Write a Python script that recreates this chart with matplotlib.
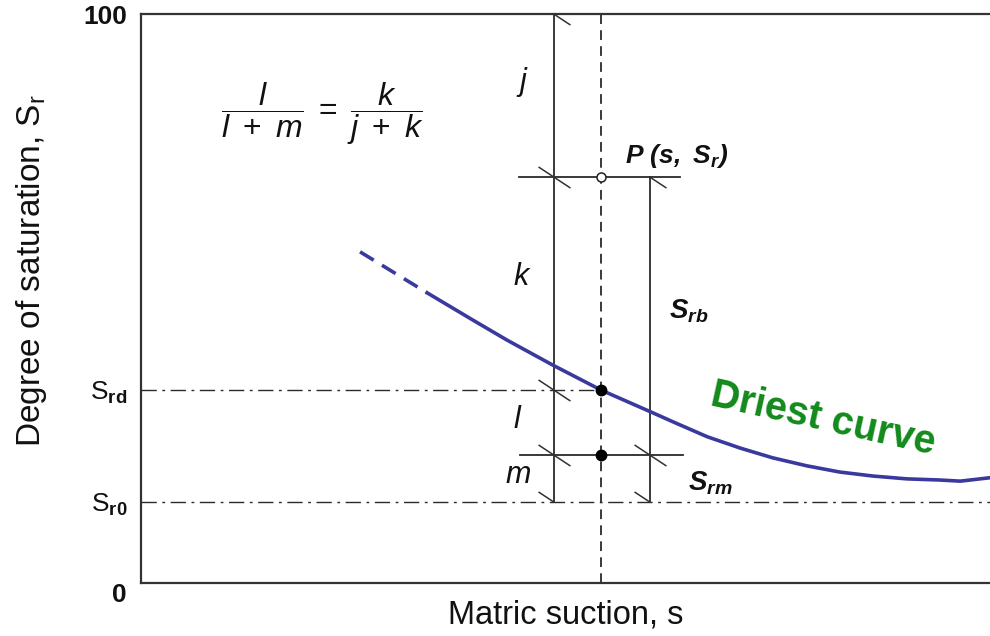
import numpy as np
import matplotlib
matplotlib.use("Agg")
import matplotlib.pyplot as plt
from matplotlib.path import Path

plt.rcParams['font.family'] = ['Liberation Sans', 'DejaVu Sans']
plt.rcParams['mathtext.fontset'] = 'custom'
plt.rcParams['mathtext.rm'] = 'Liberation Sans'
plt.rcParams['mathtext.it'] = 'Liberation Sans:italic'
plt.rcParams['mathtext.bf'] = 'Liberation Sans:bold'
plt.rcParams['mathtext.bfit'] = 'Liberation Sans:italic:bold'
plt.rcParams['lines.scale_dashes'] = False

# suction axis is schematic, 0..100 across the frame
s_p = 54.2          # suction at point P
s_left = 48.6       # j/k/l/m dimension line
s_right = 60.0      # S_rb / S_rm dimension line

sr_max = 100.0
sr_p = 71.4         # S_r at P
sr_d = 33.9         # S_rd, driest curve at s
sr_m = 22.5         # mapped point
sr_0 = 14.2         # S_r0

# driest curve (dashed extrapolation + solid part)
curve_dash_s = [25.8, 33.7]
curve_dash_sr = [58.2, 51.0]
curve_s = [33.7, 39.1, 43.1, 48.5, 54.2, 60.0, 62.7, 66.7, 70.6, 74.4,
           78.4, 82.3, 86.2, 90.2, 94.1, 96.5, 100.0]
curve_sr = [51.0, 46.2, 42.7, 38.3, 33.9, 30.1, 28.3, 25.7, 23.7, 22.0,
            20.6, 19.5, 18.8, 18.3, 18.1, 17.9, 18.5]

ytick_vals = [0, sr_0, sr_d, sr_max]
ytick_labels = ['0', r'$\mathrm{S}_{\mathbf{r0}}$', r'$\mathrm{S}_{\mathbf{rd}}$', '100']

line_col = '#2a2a2a'
curve_col = '#3a3a9e'
green = '#138a1c'

fig = plt.figure(figsize=(9.9, 6.36), dpi=100)
ax = fig.add_axes([141 / 990, 53 / 636, 849 / 990, 569 / 636])
ax.set_xlim(0, 100)
ax.set_ylim(0, 100)

for side in ['left', 'bottom', 'top']:
    ax.spines[side].set_color('#333333')
    ax.spines[side].set_linewidth(1.6)
ax.spines['right'].set_visible(False)

ax.set_xticks([])
ax.set_yticks(ytick_vals)
ax.set_yticklabels(ytick_labels)
ax.tick_params(axis='y', length=0, pad=10, labelsize=19, labelcolor='#111111')
lbls = ax.get_yticklabels()
lbls[0].set_fontweight('bold')
lbls[0].set_verticalalignment('top')
lbls[3].set_fontweight('bold')

ax.set_xlabel('Matric suction, s', fontsize=23.5, labelpad=12, color='#111111')
ax.set_ylabel(r'Degree of saturation, $\mathrm{S}_\mathrm{r}$', fontsize=24, color='#111111')
ax.yaxis.set_label_coords(-0.108, 0.55)

# reference levels
ax.plot([0, s_p], [sr_d, sr_d], color=line_col, lw=1.0, dashes=(11, 4, 2, 4))
ax.plot([0, 100], [sr_0, sr_0], color=line_col, lw=1.0, dashes=(11, 4, 2, 4))
ax.plot([s_p, s_p], [0, 100], color=line_col, lw=1.3, dashes=(7, 4.5))

# dimension lines
ax.plot([s_left, s_left], [sr_0, sr_max], color=line_col, lw=1.3)
ax.plot([s_right, s_right], [sr_0, sr_p], color=line_col, lw=1.3)
ax.plot([44.5, 63.5], [sr_p, sr_p], color=line_col, lw=1.3)
ax.plot([44.6, 63.8], [sr_m, sr_m], color=line_col, lw=1.3)

# slash ticks on the dimension lines
full = Path([(-1, 0.66), (1, -0.66)], [Path.MOVETO, Path.LINETO])
lower = Path([(0, 0), (1, -0.66)], [Path.MOVETO, Path.LINETO])
upper = Path([(-1, 0.66), (0, 0)], [Path.MOVETO, Path.LINETO])
tick_kw = dict(linestyle='none', markersize=23, markeredgewidth=1.1,
               markeredgecolor='#333333', clip_on=False)
ax.plot([s_left, s_left, s_left, s_right], [sr_p, sr_d, sr_m, sr_m], marker=full, **tick_kw)
ax.plot([s_left, s_right], [sr_max, sr_p], marker=lower, **tick_kw)
ax.plot([s_left, s_right], [sr_0, sr_0], marker=upper, **tick_kw)

# driest curve
ax.plot(curve_dash_s, curve_dash_sr, color=curve_col, lw=2.6, dashes=(11.5, 7), solid_capstyle='butt')
ax.plot(curve_s, curve_sr, color=curve_col, lw=2.6, clip_on=False, solid_joinstyle='round')

# points
ax.plot([s_p], [sr_p], 'o', ms=6.5, mfc='white', mec='#222222', mew=1.1, zorder=5)
ax.plot([s_p, s_p], [sr_d, sr_m], 'o', ms=7.5, mfc='black', mec='black', zorder=5)

# labels
it_kw = dict(fontsize=22, ha='center', va='center', color='#111111')
ax.text(44.9, 88.0, r'$j$', **it_kw)
ax.text(44.9, 53.8, r'$k$', **it_kw)
ax.text(44.4, 28.6, r'$l$', **it_kw)
ax.text(44.4, 19.0, r'$m$', **it_kw)

ax.text(57.0, 75.0, r'$\mathbfit{P\ (s,\ S_r)}$', fontsize=19, ha='left', va='center', color='#111111')
ax.text(62.2, 47.8, r'$\mathbfit{S_{rb}}$', fontsize=20, ha='left', va='center', color='#111111')
ax.text(64.4, 17.6, r'$\mathbfit{S_{rm}}$', fontsize=20, ha='left', va='center', color='#111111')

ax.text(80.3, 28.9, 'Driest curve', fontsize=28.5, fontweight='bold', color=green,
        rotation=-12.5, rotation_mode='anchor', ha='center', va='center')

ax.text(21.3, 82.5, r'$\dfrac{l}{l\ +\ m}\;=\;\dfrac{k}{j\ +\ k}$', fontsize=23,
        ha='center', va='center', color='#111111')

fig.savefig('out.png', dpi=100)
